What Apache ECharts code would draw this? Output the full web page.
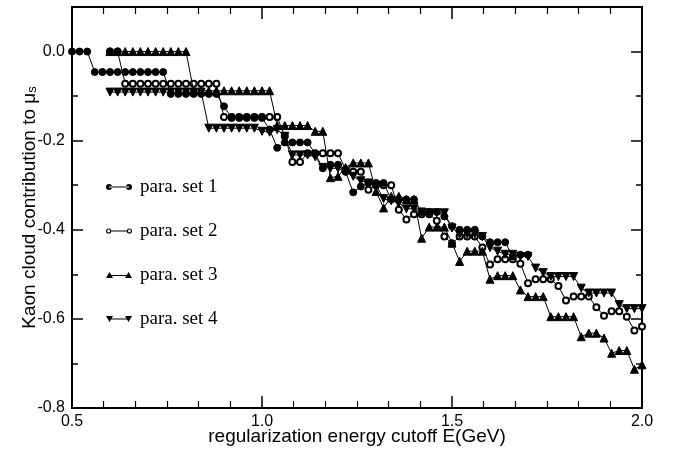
<!DOCTYPE html>
<html>
<head>
<meta charset="utf-8">
<script src="https://cdn.jsdelivr.net/npm/echarts@6/dist/echarts.min.js"></script>
<style>
  html, body { margin: 0; padding: 0; background: #fff; }
  #main { width: 680px; height: 451px; }
</style>
</head>
<body>
<div id="main"></div>
<script type="text/javascript">
  // 能量截断 (GeV)，每 0.02 一个点
  var energy = [
    0.50, 0.52, 0.54, 0.56, 0.58, 0.60, 0.62, 0.64, 0.66, 0.68,
    0.70, 0.72, 0.74, 0.76, 0.78, 0.80, 0.82, 0.84, 0.86, 0.88,
    0.90, 0.92, 0.94, 0.96, 0.98, 1.00, 1.02, 1.04, 1.06, 1.08,
    1.10, 1.12, 1.14, 1.16, 1.18, 1.20, 1.22, 1.24, 1.26, 1.28,
    1.30, 1.32, 1.34, 1.36, 1.38, 1.40, 1.42, 1.44, 1.46, 1.48,
    1.50, 1.52, 1.54, 1.56, 1.58, 1.60, 1.62, 1.64, 1.66, 1.68,
    1.70, 1.72, 1.74, 1.76, 1.78, 1.80, 1.82, 1.84, 1.86, 1.88,
    1.90, 1.92, 1.94, 1.96, 1.98, 2.00
  ];

  var set1 = [
    0, 0, 0, -0.046, -0.046, -0.046, -0.046, -0.046, -0.046, -0.046,
    -0.046, -0.046, -0.046, -0.095, -0.095, -0.095, -0.095, -0.095, -0.095, -0.095,
    -0.123, -0.149, -0.149, -0.149, -0.149, -0.149, -0.175, -0.216, -0.204, -0.204,
    -0.204, -0.204, -0.229, -0.262, -0.254, -0.254, -0.27, -0.316, -0.303, -0.295,
    -0.295, -0.295, -0.332, -0.332, -0.332, -0.332, -0.360, -0.360, -0.360, -0.370,
    -0.392, -0.400, -0.400, -0.400, -0.415, -0.428, -0.428, -0.428, -0.460, -0.456,
    -0.456, null, null, null, null, null, null, null, null, null,
    null, null, null, null, null, null
  ];

  var set2 = [
    null, null, null, null, null, 0, 0, -0.072, -0.072, -0.072,
    -0.072, -0.072, -0.072, -0.072, -0.072, -0.072, -0.072, -0.072, -0.072, -0.072,
    -0.147, -0.147, -0.147, -0.147, -0.147, -0.147, -0.147, -0.147, -0.190, -0.248,
    -0.248, -0.228, -0.228, -0.228, -0.228, -0.228, -0.265, -0.270, -0.270, -0.310,
    -0.300, -0.300, -0.300, -0.355, -0.377, -0.365, -0.365, -0.365, -0.380, -0.415,
    -0.431, -0.415, -0.415, -0.415, -0.440, -0.478, -0.466, -0.466, -0.466, -0.476,
    -0.520, -0.511, -0.511, -0.511, -0.526, -0.559, -0.550, -0.550, -0.550, -0.574,
    -0.593, -0.583, -0.583, -0.595, -0.626, -0.617
  ];

  var set3 = [
    null, null, null, null, null, 0, 0, 0, 0, 0,
    0, 0, 0, 0, 0, 0, -0.088, -0.088, -0.088, -0.088,
    -0.088, -0.088, -0.088, -0.088, -0.088, -0.088, -0.088, -0.166, -0.166, -0.166,
    -0.166, -0.166, -0.179, -0.179, -0.283, -0.280, -0.260, -0.250, -0.250, -0.250,
    -0.314, -0.351, -0.325, -0.325, -0.332, -0.332, -0.419, -0.394, -0.394, -0.394,
    -0.430, -0.471, -0.448, -0.448, -0.448, -0.511, -0.503, -0.503, -0.503, -0.535,
    -0.550, -0.550, -0.550, -0.595, -0.595, -0.595, -0.595, -0.640, -0.632, -0.632,
    -0.643, -0.677, -0.671, -0.671, -0.713, -0.703
  ];

  var set4 = [
    null, null, null, null, null, -0.091, -0.091, -0.091, -0.091, -0.091,
    -0.091, -0.091, -0.091, -0.091, -0.091, -0.091, -0.091, -0.091, -0.172, -0.172,
    -0.172, -0.172, -0.172, -0.172, -0.172, -0.179, -0.181, -0.175, -0.190, -0.232,
    -0.232, -0.232, -0.236, -0.260, -0.262, -0.262, -0.270, -0.280, -0.290, -0.295,
    -0.300, -0.330, -0.335, -0.340, -0.353, -0.353, -0.360, -0.362, -0.362, -0.362,
    -0.396, -0.410, -0.410, -0.410, -0.415, -0.440, -0.448, -0.455, -0.455, -0.460,
    -0.460, -0.486, -0.496, -0.505, -0.505, -0.505, -0.505, -0.531, -0.542, -0.542,
    -0.542, -0.542, -0.568, -0.577, -0.577, -0.577
  ];

  var names = ['para. set 1', 'para. set 2', 'para. set 3', 'para. set 4'];

  function pairs(vals) {
    var out = [];
    energy.forEach(function (e, i) {
      if (vals[i] != null) out.push([e, vals[i]]);
    });
    return out;
  }

  var chart = echarts.init(document.getElementById('main'));

  var lineW = 2;
  var labelFont = 'Liberation Sans, Arial, Helvetica, sans-serif';

  function yAx(pos, step, len, withLabel) {
    return {
      type: 'value', position: pos, min: -0.8, max: 0.1, interval: step,
      axisLine: { show: true, onZero: false, lineStyle: { color: '#000', width: lineW } },
      axisTick: { show: true, inside: true, length: len, lineStyle: { color: '#000', width: 1.5 } },
      axisLabel: {
        show: withLabel, showMaxLabel: false, margin: 7,
        color: '#000', fontSize: 16, fontFamily: labelFont,
        formatter: function (v) { return v.toFixed(1); }
      },
      splitLine: { show: false }
    };
  }

  function xAx(pos, withLabel) {
    return {
      type: 'value', position: pos, min: 0.5, max: 2.0, interval: 0.5,
      axisLine: { show: true, onZero: false, lineStyle: { color: '#000', width: lineW } },
      axisTick: { show: true, inside: true, length: 12, lineStyle: { color: '#000', width: 1.5 } },
      minorTick: { show: true, splitNumber: 6, length: 7, lineStyle: { color: '#000', width: 1.2 } },
      axisLabel: {
        show: withLabel, margin: 6, color: '#000', fontSize: 16, fontFamily: labelFont,
        formatter: function (v) { return v.toFixed(1); }
      },
      splitLine: { show: false }
    };
  }

  var xTop = xAx('top', false);
  var xBottom = xAx('bottom', true);
  xBottom.name = 'regularization energy cutoff E(GeV)';
  xBottom.nameLocation = 'middle';
  xBottom.nameGap = 19;
  xBottom.nameMoveOverlap = false;
  xBottom.nameTextStyle = { color: '#000', fontSize: 19, fontFamily: labelFont };

  var yMinor = yAx('left', 0.1, 6, false);
  var yMajor = yAx('left', 0.2, 11, true);
  yMajor.name = '{a|Kaon cloud contribution to μ}{s|s}';
  yMajor.nameLocation = 'middle';
  yMajor.nameGap = 33;
  yMajor.nameMoveOverlap = false;
  yMajor.nameTextStyle = {
    color: '#000', fontSize: 19, fontFamily: labelFont,
    rich: {
      a: { fontSize: 19, fontFamily: labelFont, color: '#000', lineHeight: 22, verticalAlign: 'bottom' },
      s: { fontSize: 13, fontFamily: labelFont, color: '#000', lineHeight: 10, verticalAlign: 'bottom' }
    }
  };
  var yMinorR = yAx('right', 0.1, 6, false);
  var yMajorR = yAx('right', 0.2, 11, false);

  var icons = [
    'path://M0,3a3,3 0 1,0 6,0a3,3 0 1,0 -6,0zM20,3a3,3 0 1,0 6,0a3,3 0 1,0 -6,0zM3,2.5h20v1h-20z',
    'path://M0.5,3a2.5,2.5 0 1,0 5,0a2.5,2.5 0 1,0 -5,0zM1.6,3a1.4,1.4 0 1,1 2.8,0a1.4,1.4 0 1,1 -2.8,0zM20.5,3a2.5,2.5 0 1,0 5,0a2.5,2.5 0 1,0 -5,0zM21.6,3a1.4,1.4 0 1,1 2.8,0a1.4,1.4 0 1,1 -2.8,0zM5.5,2.5h15v1h-15z',
    'path://M0,6L3.5,0L7,6zM19,6L22.5,0L26,6zM3.5,3h19v1h-19z',
    'path://M0,0L7,0L3.5,6zM19,0L26,0L22.5,6zM3.5,2.5h19v1h-19z'
  ];

  // 图层顺序：set 2 最下，set 1 最上
  var zOrder = [5, 2, 4, 3];

  function makeSeries(idx, vals, symbol, size, rotate) {
    return {
      name: names[idx],
      type: 'line',
      xAxisIndex: 1,
      yAxisIndex: 0,
      data: pairs(vals),
      symbol: symbol,
      symbolSize: size,
      symbolRotate: rotate || 0,
      showSymbol: true,
      lineStyle: { color: '#000', width: 1 },
      itemStyle: { color: '#000', borderColor: '#000', borderWidth: 1 },
      emphasis: { disabled: true },
      z: zOrder[idx]
    };
  }

  var option = {
    animation: false,
    backgroundColor: '#fff',
    grid: { left: 72, right: 38, top: 7, bottom: 42 },
    legend: {
      orient: 'vertical',
      left: 106,
      top: 177,
      padding: 0,
      itemWidth: 26,
      itemHeight: 6,
      itemGap: 24,
      textStyle: { color: '#000', fontSize: 19, fontFamily: 'Liberation Serif, Times New Roman, serif', lineHeight: 20, padding: [0, 0, 0, 3] },
      data: names.map(function (n, i) {
        return { name: n, icon: icons[i], itemStyle: { color: '#000', borderWidth: 0 } };
      }),
      selectedMode: false
    },
    xAxis: [xTop, xBottom],
    yAxis: [yMinor, yMajor, yMinorR, yMajorR],
    series: [
      makeSeries(0, set1, 'circle', 7),
      makeSeries(1, set2, 'emptyCircle', 6),
      makeSeries(2, set3, 'triangle', 8),
      makeSeries(3, set4, 'triangle', 8, 180)
    ]
  };

  chart.setOption(option);
</script>
</body>
</html>
